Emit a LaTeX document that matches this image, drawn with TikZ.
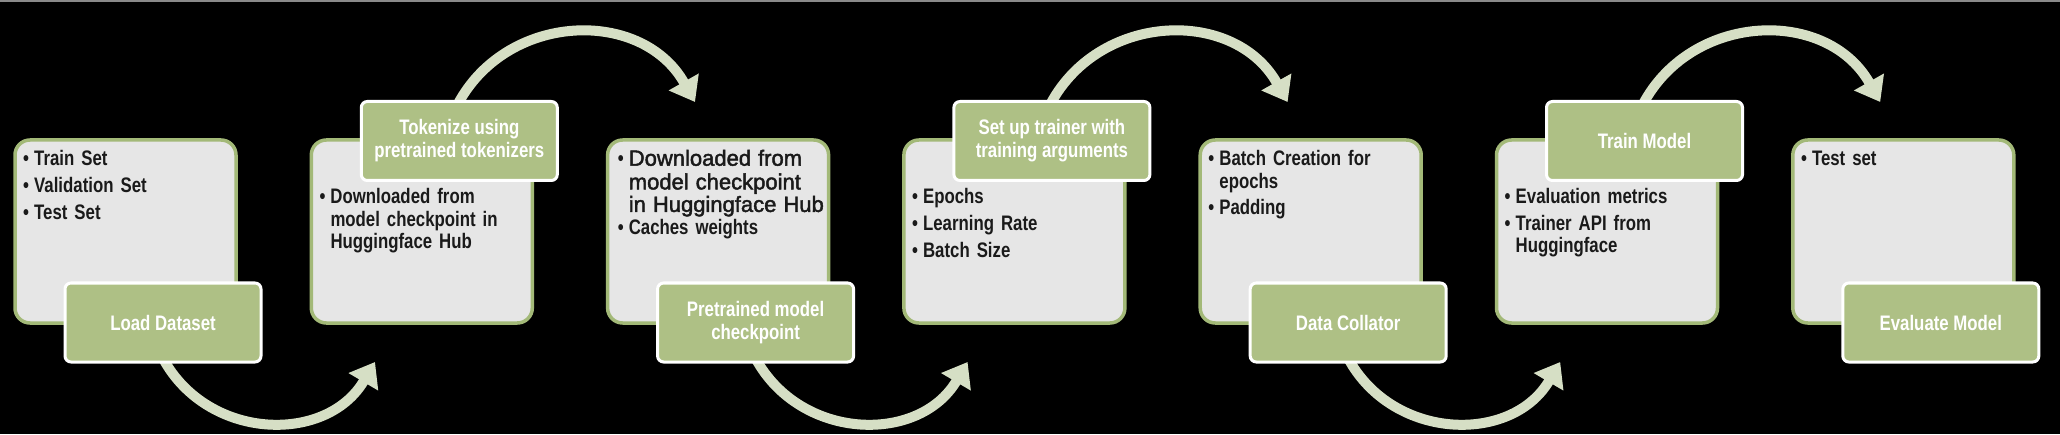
\documentclass[tikz,border=0pt]{standalone}
\usepackage{fontspec}
\setmainfont{Liberation Sans Bold}[FakeStretch=0.80]
\newfontfamily\widefont{Liberation Sans}[FakeBold=2]
\usetikzlibrary{arrows.meta}
\definecolor{bggray}{HTML}{E6E6E6}
\definecolor{boxgreen}{HTML}{A3B978}
\definecolor{labgreen}{HTML}{AEC085}
\definecolor{arrcol}{HTML}{D6DFC5}
\definecolor{topline}{HTML}{8A8A8A}
\definecolor{inktext}{HTML}{1A1A1A}
\newcommand\fitem[1]{\par\hangindent=11pt\hangafter=1\noindent\makebox[11pt][l]{\strut•}#1\par}
\newcommand\bitem[1]{\vspace{4.2pt}\fitem{#1}}
\tikzset{
  mainbox/.style={draw=boxgreen, line width=3.5pt, fill=bggray, rounded corners=15pt,
    minimum width=221pt, minimum height=183pt, inner sep=0pt},
  labbox/.style={draw=white, line width=3pt, fill=labgreen, rounded corners=6pt,
    minimum width=196pt, minimum height=79pt, inner sep=0pt, text=white, align=center,
    font=\fontsize{21}{23}\selectfont},
  bodytext/.style={anchor=north west, inner sep=0pt, text width=215pt, align=left,
    font=\fontsize{21}{22.5}\selectfont, text=inktext},
  flowarrow/.style={draw=arrcol, line width=10pt, -{Triangle[length=23pt, width=33pt]}}
}
\begin{document}
\begin{tikzpicture}[x=1pt, y=1pt]
\useasboundingbox (0,0) rectangle (2060,434);
\fill[black] (0,0) rectangle (2060,434);
\draw[topline, line width=2pt] (0,433) -- (2060,433);

% arrow coordinates
\coordinate (t1s) at (453,320);    \coordinate (t1e) at (695,332);
\coordinate (t2s) at (1045.6,320); \coordinate (t2e) at (1287.6,332);
\coordinate (t3s) at (1638.2,320); \coordinate (t3e) at (1880.2,332);
\coordinate (b1s) at (160.7,80);   \coordinate (b1e) at (375,72);
\coordinate (b2s) at (753.3,80);   \coordinate (b2e) at (967.6,72);
\coordinate (b3s) at (1345.9,80);  \coordinate (b3e) at (1560.2,72);

\foreach \s/\e in {t1s/t1e, t2s/t2e, t3s/t3e}
  \draw[flowarrow] (\s) to[out=66.3, in=119.4, looseness=1.175] (\e);
\foreach \s/\e in {b1s/b1e, b2s/b2e, b3s/b3e}
  \draw[flowarrow] (\s) to[out=-63.7, in=-120.5, looseness=1.155] (\e);

% main boxes
\node[mainbox] (box1) at (125.5,202.5) {};
\node[mainbox] (box2) at (421.8,202.5) {};
\node[mainbox] (box3) at (718.1,202.5) {};
\node[mainbox] (box4) at (1014.4,202.5) {};
\node[mainbox] (box5) at (1310.7,202.5) {};
\node[mainbox] (box6) at (1607,202.5) {};
\node[mainbox] (box7) at (1903.3,202.5) {};

% body texts
\node[bodytext] (txt1) at (23,291) {\fitem{Train Set}\bitem{Validation Set}\bitem{Test Set}};
\node[bodytext] (txt2) at (319.3,253) {\fitem{Downloaded from\newline model checkpoint in\newline Huggingface Hub}};
\node[bodytext] (txt3) at (617.6,291) {\fitem{{\widefont\fontsize{22}{22}\selectfont Downloaded from\newline model checkpoint\newline in Huggingface Hub}}\fitem{Caches weights}};
\node[bodytext] (txt4) at (911.9,253) {\fitem{Epochs}\bitem{Learning Rate}\bitem{Batch Size}};
\node[bodytext] (txt5) at (1208.2,291) {\fitem{Batch Creation for\newline epochs}\bitem{Padding}};
\node[bodytext] (txt6) at (1504.5,253) {\fitem{Evaluation metrics}\bitem{Trainer API from\newline Huggingface}};
\node[bodytext] (txt7) at (1800.8,291) {\fitem{Test set}};

% label boxes
\node[labbox] (lab1) at (163,111.5) {Load Dataset};
\node[labbox] (lab2) at (459.3,293) {Tokenize using\\pretrained tokenizers};
\node[labbox] (lab3) at (755.6,111.5) {Pretrained model\\checkpoint};
\node[labbox] (lab4) at (1051.9,293) {Set up trainer with\\training arguments};
\node[labbox] (lab5) at (1348.2,111.5) {Data Collator};
\node[labbox] (lab6) at (1644.5,293) {Train Model};
\node[labbox] (lab7) at (1940.8,111.5) {Evaluate Model};
\end{tikzpicture}
\end{document}
